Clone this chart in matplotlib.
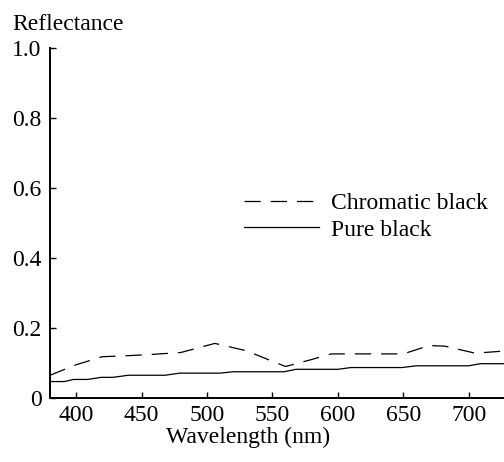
import matplotlib
matplotlib.use("Agg")
import matplotlib.pyplot as plt
import matplotlib.ticker as ticker

plt.rcParams['font.family'] = ['Liberation Serif', 'DejaVu Serif']
plt.rcParams['font.size'] = 17

# chromatic black (dashed)
chromatic_wl = [380, 400, 420, 440, 460, 480, 490, 506, 530, 560, 580, 595, 650, 670, 682, 705, 730]
chromatic_r = [0.065, 0.095, 0.118, 0.121, 0.125, 0.130, 0.140, 0.156, 0.135, 0.090, 0.110, 0.126, 0.126, 0.150, 0.148, 0.128, 0.135]

# pure black (solid), small steps
pure_wl = [380, 391, 398, 409, 419, 428, 440, 468, 479, 510, 520, 559, 568, 600, 610, 649, 660, 700, 709, 730]
pure_r = [0.047, 0.047, 0.053, 0.053, 0.059, 0.059, 0.065, 0.065, 0.071, 0.071, 0.075, 0.075, 0.082, 0.082, 0.087, 0.087, 0.092, 0.092, 0.098, 0.098]

x_ticks = [400, 450, 500, 550, 600, 650, 700]
y_ticks = [0, 0.2, 0.4, 0.6, 0.8, 1.0]
y_ticklabels = ['0', '0.2', '0.4', '0.6', '0.8', '1.0']

fig = plt.figure(figsize=(5.04, 4.62), dpi=100)
ax = fig.add_axes([50/504, 1 - 398/462, 1 - 50/504, 350/462])

ax.plot(chromatic_wl, chromatic_r, color='black', lw=0.9, dashes=(13, 8), label='Chromatic black')
ax.plot(pure_wl, pure_r, color='black', lw=0.9, label='Pure black')

ax.set_xlim(380, 727)
ax.set_ylim(0, 1.0)
ax.xaxis.set_major_locator(ticker.FixedLocator(x_ticks))
ax.set_yticks(y_ticks)
ax.set_yticklabels(y_ticklabels)

for side in ['top', 'right']:
    ax.spines[side].set_visible(False)
for side in ['left', 'bottom']:
    ax.spines[side].set_linewidth(1.4)
ax.tick_params(axis='both', direction='in', length=4, width=1.0)
ax.tick_params(axis='x', pad=5)
ax.tick_params(axis='y', pad=6)

fig.text(12/504, 1 - 30/462, 'Reflectance', ha='left', va='baseline')
fig.text(248/504, 1 - 443/462, 'Wavelength (nm)', ha='center', va='baseline')

ax.legend(loc='upper left', bbox_to_anchor=(232/504, 1 - 181/462), bbox_transform=fig.transFigure,
          frameon=False, handlelength=3.2, handletextpad=0.5, labelspacing=0.2, borderpad=0)

fig.savefig('out.png', dpi=100)
